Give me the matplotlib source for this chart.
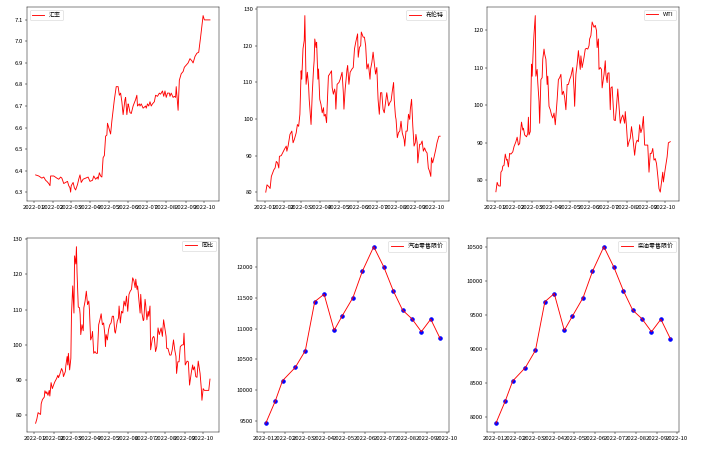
import numpy as np
import pandas as pd
import matplotlib
matplotlib.use("Agg")
import matplotlib.pyplot as plt
from matplotlib.ticker import MultipleLocator

plt.rcParams['font.family'] = ['Noto Sans CJK SC', 'DejaVu Sans']
plt.rcParams['axes.unicode_minus'] = False

#daily series: day of year 2022 and value
fx_days = [3, 8, 13, 16, 19, 21, 24, 26, 27, 32, 37, 40, 43, 45, 48, 51, 54, 56, 58, 59, 60, 63, 65, 67, 70, 72, 74, 76, 79, 83,
           87, 90, 94, 96, 99, 102, 103, 105, 107, 109, 111, 113, 115, 117, 118, 120, 123, 125, 127, 129, 132, 135, 137, 139, 141,
           143, 146, 147, 149, 151, 152, 154, 156, 159, 163, 165, 166, 169, 170, 172, 175, 179, 180, 182, 184, 186, 188, 190, 193,
           195, 198, 201, 203, 206, 208, 210, 212, 214, 217, 218, 220, 223, 225, 227, 228, 231, 233, 236, 239, 241, 244, 247, 250,
           253, 255, 258, 261, 264, 267, 269, 271, 273, 282]
fx_vals = [6.38, 6.375, 6.365, 6.37, 6.355, 6.35, 6.34, 6.33, 6.375, 6.375, 6.365, 6.36, 6.37, 6.365, 6.34, 6.345, 6.35, 6.33, 6.32, 6.30,
           6.33, 6.345, 6.32, 6.31, 6.335, 6.36, 6.38, 6.345, 6.36, 6.365, 6.37, 6.35, 6.355, 6.375, 6.36, 6.37, 6.36, 6.39, 6.375,
           6.37, 6.46, 6.47, 6.56, 6.565, 6.62, 6.60, 6.57, 6.63, 6.68, 6.73, 6.79, 6.79, 6.75, 6.76, 6.72, 6.66, 6.73, 6.74, 6.66,
           6.71, 6.70, 6.67, 6.665, 6.70, 6.73, 6.75, 6.70, 6.71, 6.70, 6.71, 6.69, 6.70, 6.69, 6.71, 6.70, 6.72, 6.70, 6.71, 6.72,
           6.75, 6.745, 6.76, 6.755, 6.77, 6.745, 6.77, 6.74, 6.76, 6.76, 6.745, 6.76, 6.74, 6.745, 6.74, 6.79, 6.68, 6.82, 6.85,
           6.86, 6.88, 6.89, 6.90, 6.92, 6.91, 6.90, 6.93, 6.945, 6.95, 7.02, 7.07, 7.12, 7.10, 7.10]

brent_days = [2, 4, 7, 9, 11, 13, 15, 17, 19, 21, 23, 24, 27, 29, 32, 35, 36, 38, 41, 44, 46, 48, 51, 53, 55, 57, 59, 60, 62, 64,
              65, 67, 69, 71, 72, 74, 75, 77, 79, 80, 81, 83, 84, 86, 87, 89, 91, 93, 95, 96, 98, 100, 101, 103, 105, 108, 109, 111,
              113, 114, 115, 117, 120, 122, 125, 127, 128, 130, 133, 134, 136, 138, 141, 143, 145, 147, 150, 151, 153, 155, 156, 159,
              161, 163, 165, 167, 168, 170, 171, 173, 175, 177, 179, 181, 183, 185, 187, 189, 191, 193, 195, 197, 200, 202, 204, 206,
              208, 209, 211, 212, 214, 216, 218, 220, 222, 225, 226, 228, 230, 232, 234, 235, 237, 239, 241, 243, 244, 246, 247, 250,
              252, 254, 256, 258, 260, 262, 264, 266, 268, 269, 271, 273, 276, 278, 281, 283]
brent_vals = [80, 82, 81.5, 81, 84.3, 85.2, 86.1, 86.6, 88.4, 88, 86.6, 89.8, 90, 90.7, 91.7, 92.6, 91.2, 92.6, 95.8, 96.7, 93.5,
              94.4, 96.2, 98.5, 98, 101.3, 113.2, 110.9, 119.2, 121.5, 128.3, 109.5, 112.8, 109.1, 105.4, 100.8, 98.5, 107.2, 113.7,
              116, 121.9, 119.6, 121, 110.9, 113.7, 105.4, 104, 101.7, 103.1, 100.8, 101.3, 99, 103.6, 111.8, 112.3, 113.2, 108.6,
              106.8, 108.2, 107.2, 102.7, 109.5, 110, 110.9, 112.8, 107.2, 102.7, 108.2, 113.7, 114.6, 109.5, 112.8, 113.7, 114.1,
              119.2, 121, 123.3, 116.9, 119.6, 120.1, 123.8, 122.4, 122.4, 120.1, 113.7, 115.1, 114.1, 110.9, 113.7, 115.5, 118.3,
              115.1, 112.3, 114.1, 105.4, 101.3, 107.2, 107.2, 102.7, 101.7, 104.5, 107.2, 103.6, 104.5, 105, 107.7, 110, 105.4,
              100.8, 99.9, 94.9, 96.3, 96.7, 99.4, 96.2, 94.4, 92.6, 96.7, 96.7, 101.3, 99.9, 102.7, 105.4, 98, 92.6, 93.5, 95.8,
              93.5, 88, 93.1, 93.1, 94, 91.2, 92.1, 91.2, 90.7, 86.6, 85.7, 84.3, 89.4, 88, 89.4, 91.7, 93.5, 95.3, 95.3]

wti_days = [2, 4, 6, 9, 10, 12, 13, 15, 17, 19, 20, 22, 24, 26, 29, 31, 34, 36, 38, 40, 42, 43, 45, 46, 48, 51, 53, 54, 55, 57,
            59, 60, 62, 63, 65, 66, 68, 69, 71, 72, 74, 76, 77, 79, 80, 82, 84, 85, 87, 89, 91, 93, 95, 97, 100, 102, 104, 106,
            108, 110, 112, 114, 116, 118, 120, 122, 125, 127, 128, 130, 132, 134, 135, 137, 138, 140, 143, 145, 147, 149, 151, 152,
            154, 156, 159, 161, 163, 164, 166, 167, 169, 171, 172, 175, 177, 178, 180, 181, 183, 185, 186, 188, 191, 193, 195, 197,
            199, 201, 203, 205, 208, 209, 211, 213, 215, 217, 219, 221, 224, 226, 228, 230, 232, 234, 236, 238, 240, 242, 245, 247,
            249, 251, 253, 255, 257, 259, 261, 263, 265, 267, 269, 270, 273, 276, 278, 281]
wti_vals = [77, 79.5, 78.6, 78.5, 82.2, 82.7, 83.8, 84, 87, 85.4, 85.6, 83.6, 87.2, 87, 87.6, 89, 90.3, 91.5, 89.4, 89.8, 93.9,
            95.5, 93.4, 93.9, 92.1, 91.6, 92.5, 96.8, 92.1, 93, 110.9, 107.7, 115.8, 118.9, 123.8, 107.7, 109.5, 106, 101, 95.2,
            106.8, 107.3, 112.2, 114.9, 113.6, 112.2, 105.5, 107.7, 99.7, 98.8, 97.4, 96.6, 97.9, 94.8, 101.5, 106.8, 107.3, 108.2,
            102.8, 103.7, 102.1, 98.8, 105.5, 105.5, 106.8, 107.7, 110, 104.2, 99.7, 108.2, 110.9, 114.5, 112.7, 109.5, 113.1, 110,
            112.7, 114.9, 115.1, 114.9, 115.8, 117.6, 118.5, 122.1, 120.7, 121.2, 119.8, 115.3, 117.6, 109.5, 110, 109.5, 104.6,
            108.2, 111.8, 108.2, 106, 108.5, 108.6, 98.8, 104.6, 104.9, 96.1, 95.9, 99.7, 104.3, 99.7, 95.2, 96.6, 97.4, 95.2, 98.3,
            94.3, 89, 90.3, 91.2, 94.3, 91.6, 86.7, 89.8, 90.7, 90.3, 94.8, 92.7, 93.9, 97, 89.4, 89.4, 89.4, 82.2, 87.2, 87.2,
            88.5, 85.4, 85.8, 84.5, 81.3, 77.8, 76.9, 79.6, 82.2, 79.6, 83.1, 86.3, 90, 90.3]

yoy_days = [2, 4, 6, 8, 10, 11, 13, 16, 17, 19, 20, 22, 24, 25, 27, 29, 31, 33, 36, 38, 39, 41, 44, 46, 47, 50, 51, 53, 54, 55,
            57, 59, 60, 62, 64, 65, 67, 68, 69, 71, 73, 74, 75, 77, 79, 80, 82, 84, 86, 88, 89, 91, 93, 94, 96, 98, 100, 102, 104,
            106, 108, 110, 112, 114, 115, 116, 118, 120, 122, 124, 126, 128, 130, 131, 134, 136, 137, 139, 141, 143, 145, 147, 149,
            151, 153, 155, 157, 159, 161, 163, 164, 166, 167, 169, 171, 172, 174, 176, 177, 179, 180, 182, 184, 185, 187, 188, 191,
            193, 194, 196, 198, 200, 202, 205, 207, 209, 211, 213, 214, 216, 219, 221, 223, 225, 227, 229, 230, 232, 234, 236, 239,
            241, 242, 244, 247, 249, 251, 254, 256, 257, 259, 261, 263, 265, 268, 270, 271, 273, 275, 277, 280, 282, 284]
yoy_vals = [77.8, 79, 80.8, 80.5, 80.3, 83.3, 84.5, 85.2, 87, 86.2, 86.7, 85.7, 87.1, 85.5, 89.3, 87.6, 88.6, 89.5, 90.5, 91.4,
            90.7, 91.6, 93.3, 92.4, 91, 92.4, 94.3, 96.7, 94.3, 97.6, 92.9, 96.2, 108.6, 116.7, 109, 125.2, 122.9, 127.8, 120.5,
            110.7, 110.5, 108.6, 102.9, 105.7, 104, 110.5, 112.4, 115.2, 111.4, 112.4, 110, 101.4, 102.4, 103.8, 97.6, 98.1, 97.6,
            97.6, 105.7, 107.1, 108.8, 105.7, 106.2, 102.9, 99.5, 102.9, 101.4, 104.3, 105.7, 106.2, 108.1, 108.1, 103.8, 103.3,
            106.7, 107.6, 111, 106.2, 109.5, 109, 112.4, 111, 113.8, 109.5, 114.3, 115.2, 115.7, 119, 118.1, 116.2, 118.6, 115.7,
            116.7, 112.9, 109, 114.3, 109, 106.9, 107.1, 112.9, 111.4, 107.1, 109.5, 108.1, 111, 98.6, 101.9, 102.4, 101.9, 98.1,
            99.5, 104.8, 102.9, 104.8, 102.4, 107.1, 104.8, 102.4, 99, 99, 97.1, 97.1, 98.6, 101.4, 98.6, 96.7, 91.9, 95.2, 95.2,
            99.5, 100, 100, 103.3, 94.3, 95.4, 95.2, 88.6, 92.4, 94.3, 92.9, 93.8, 91, 90.8, 95.4, 91.9, 87.6, 84.3, 87.6, 87.1,
            87.1, 87.1, 87.1, 90.3]

#retail price adjustments
adj_dates = ['2022-01-04', '2022-01-18', '2022-01-29', '2022-02-17', '2022-03-04', '2022-03-18', '2022-04-01', '2022-04-16',
             '2022-04-28', '2022-05-14', '2022-05-28', '2022-06-14', '2022-06-29', '2022-07-13', '2022-07-27', '2022-08-10',
             '2022-08-24', '2022-09-07', '2022-09-21']
gasoline = [9465, 9820, 10155, 10370, 10643, 11437, 11557, 10972, 11207, 11502, 11929, 12328, 12000, 11617, 11300, 11158,
            10950, 11152, 10840]
diesel = [7905, 8234, 8528, 8727, 8981, 9698, 9818, 9275, 9484, 9758, 10146, 10510, 10206, 9863, 9574, 9444, 9255, 9439, 9155]

def to_dates(days):
	return pd.Timestamp('2022-01-01') + pd.to_timedelta(np.array(days), unit='D')

#big figure drawn at low dpi
DPI = 43
fig, axes = plt.subplots(2, 3, figsize=(708/DPI, 451/DPI), dpi=DPI)
fig.subplots_adjust(left=0.038, right=0.959, bottom=0.042, top=0.985, wspace=0.2, hspace=0.19)

axes[0, 0].plot(to_dates(fx_days), fx_vals, color='red', label='汇率')
axes[0, 0].yaxis.set_major_locator(MultipleLocator(0.1))
axes[0, 0].legend(loc='upper left')

axes[0, 1].plot(to_dates(brent_days), brent_vals, color='red', label='布伦特')
axes[0, 1].legend(loc='upper right')

axes[0, 2].plot(to_dates(wti_days), wti_vals, color='red', label='WTI')
axes[0, 2].legend(loc='upper right')

axes[1, 0].plot(to_dates(yoy_days), yoy_vals, color='red', label='同比')
axes[1, 0].legend(loc='upper right')

adj = pd.to_datetime(adj_dates)
axes[1, 1].plot(adj, gasoline, color='red', label='汽油零售限价')
axes[1, 1].scatter(adj, gasoline, color='blue', s=40)
axes[1, 1].legend(loc='upper right')

axes[1, 2].plot(adj, diesel, color='red', label='柴油零售限价')
axes[1, 2].scatter(adj, diesel, color='blue', s=40)
axes[1, 2].legend(loc='upper right')

plt.savefig('out.png', dpi=DPI)
